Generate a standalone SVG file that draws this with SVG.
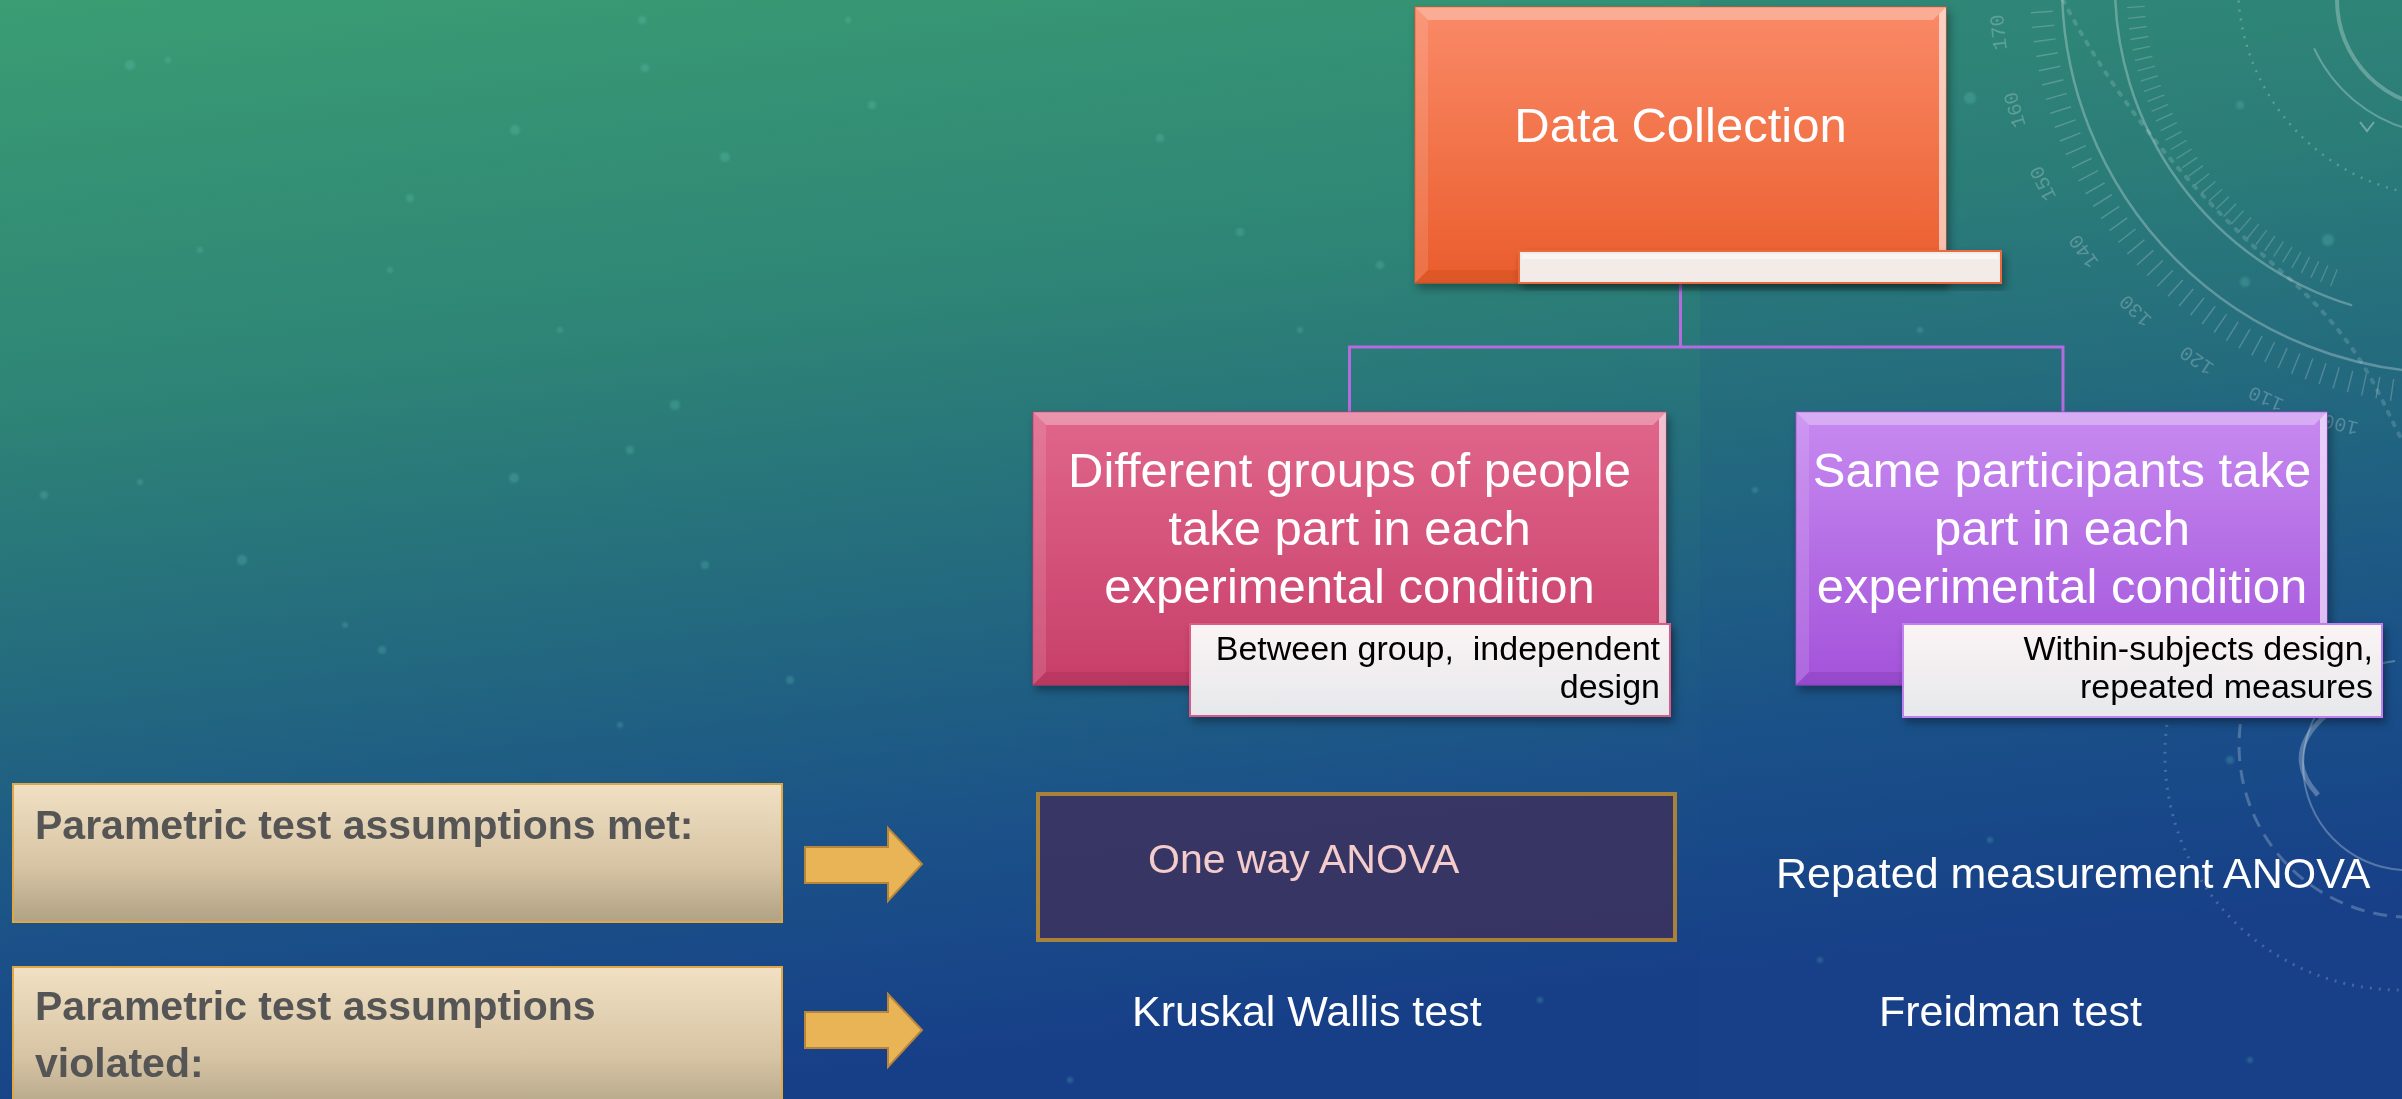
<svg xmlns="http://www.w3.org/2000/svg" width="2402" height="1099" viewBox="0 0 2402 1099">
  <defs>
    <linearGradient id="bg" x1="0" y1="0" x2="0.25" y2="1">
      <stop offset="0" stop-color="#3a9d73"/>
      <stop offset="0.35" stop-color="#2e8476"/>
      <stop offset="0.6" stop-color="#23697f"/>
      <stop offset="0.8" stop-color="#1b5288"/>
      <stop offset="1" stop-color="#173f88"/>
    </linearGradient>
    <linearGradient id="gOrange" x1="0" y1="0" x2="0" y2="1">
      <stop offset="0" stop-color="#fa8a68"/>
      <stop offset="1" stop-color="#ea5d2c"/>
    </linearGradient>
    <linearGradient id="gPink" x1="0" y1="0" x2="0" y2="1">
      <stop offset="0" stop-color="#e1668b"/>
      <stop offset="1" stop-color="#c73f69"/>
    </linearGradient>
    <linearGradient id="gPurple" x1="0" y1="0" x2="0" y2="1">
      <stop offset="0" stop-color="#c78af0"/>
      <stop offset="1" stop-color="#a353da"/>
    </linearGradient>
    <linearGradient id="gTan" x1="0" y1="0" x2="0" y2="1">
      <stop offset="0" stop-color="#f2e0c4"/>
      <stop offset="0.6" stop-color="#d6c4a4"/>
      <stop offset="1" stop-color="#b1a285"/>
    </linearGradient>
    <linearGradient id="gLabel" x1="0" y1="0" x2="0" y2="1">
      <stop offset="0" stop-color="#fbf4f5"/>
      <stop offset="1" stop-color="#e6e8eb"/>
    </linearGradient>
    <filter id="shadow" x="-10%" y="-10%" width="125%" height="135%">
      <feDropShadow dx="3" dy="5" stdDeviation="4" flood-color="#000" flood-opacity="0.35"/>
    </filter>
    <filter id="soft" x="-50%" y="-50%" width="200%" height="200%">
      <feGaussianBlur stdDeviation="1.2"/>
    </filter>
    <style>
      .deco { fill: none; stroke: #ffffff; }
      .num { font-family: "Liberation Mono", monospace; font-size: 20px; fill: #ffffff; fill-opacity: 0.28; text-anchor: middle; dominant-baseline: central; }
      .dot { fill: #6fd3c8; fill-opacity: 0.22; }
      .hi { fill: #ffffff; }
      .box-text { font-family: "Liberation Sans", Arial, sans-serif; fill: #ffffff; text-anchor: middle; font-size: 49px; }
      .label-text { font-family: "Liberation Sans", Arial, sans-serif; fill: #000000; text-anchor: end; font-size: 34px; white-space: pre; }
      .side-text { font-family: "Liberation Sans", Arial, sans-serif; fill: #555555; font-weight: bold; font-size: 41px; }
      .result { font-family: "Liberation Sans", Arial, sans-serif; fill: #ffffff; font-size: 43px; }
      .conn { fill: none; stroke: #b56be0; stroke-width: 3; }
      .arrow { fill: #e8b455; stroke: #b8863a; stroke-width: 2; }
    </style>
  </defs>

  <!-- backdrop -->
  <rect x="0" y="0" width="2402" height="1099" fill="url(#bg)"/>
  <rect x="1700" y="0" width="702" height="1099" fill="#1a4a8a" opacity="0.12"/>

  <!-- floating specks -->
  <g id="specks" filter="url(#soft)">
    <circle class="dot" cx="130" cy="65" r="5"/>
    <circle class="dot" cx="168" cy="60" r="3"/>
    <circle class="dot" cx="410" cy="198" r="4"/>
    <circle class="dot" cx="515" cy="130" r="5"/>
    <circle class="dot" cx="642" cy="20" r="4"/>
    <circle class="dot" cx="645" cy="68" r="4"/>
    <circle class="dot" cx="725" cy="157" r="5"/>
    <circle class="dot" cx="200" cy="250" r="3"/>
    <circle class="dot" cx="390" cy="270" r="3"/>
    <circle class="dot" cx="560" cy="330" r="3"/>
    <circle class="dot" cx="44" cy="495" r="4"/>
    <circle class="dot" cx="140" cy="482" r="3"/>
    <circle class="dot" cx="514" cy="478" r="5"/>
    <circle class="dot" cx="675" cy="405" r="5"/>
    <circle class="dot" cx="630" cy="450" r="4"/>
    <circle class="dot" cx="345" cy="625" r="3"/>
    <circle class="dot" cx="242" cy="560" r="5"/>
    <circle class="dot" cx="382" cy="650" r="4"/>
    <circle class="dot" cx="705" cy="565" r="4"/>
    <circle class="dot" cx="790" cy="680" r="4"/>
    <circle class="dot" cx="620" cy="725" r="3"/>
    <circle class="dot" cx="848" cy="20" r="3"/>
    <circle class="dot" cx="872" cy="105" r="4"/>
    <circle class="dot" cx="1160" cy="138" r="4"/>
    <circle class="dot" cx="1240" cy="232" r="4"/>
    <circle class="dot" cx="1380" cy="265" r="4"/>
    <circle class="dot" cx="1300" cy="330" r="3"/>
    <circle class="dot" cx="1970" cy="98" r="6"/>
    <circle class="dot" cx="2240" cy="105" r="4"/>
    <circle class="dot" cx="2328" cy="240" r="6"/>
    <circle class="dot" cx="2245" cy="282" r="5"/>
    <circle class="dot" cx="1920" cy="330" r="3"/>
    <circle class="dot" cx="1630" cy="500" r="3"/>
    <circle class="dot" cx="1755" cy="490" r="3"/>
    <circle class="dot" cx="2230" cy="760" r="4"/>
    <circle class="dot" cx="1990" cy="840" r="3"/>
    <circle class="dot" cx="1540" cy="1000" r="3"/>
    <circle class="dot" cx="1820" cy="960" r="3"/>
    <circle class="dot" cx="2250" cy="1060" r="3"/>
    <circle class="dot" cx="900" cy="860" r="4"/>
    <circle class="dot" cx="1070" cy="1080" r="3"/>
  </g>

  <!-- dial ornament, upper right -->
  <g id="dial" opacity="0.85">
    <circle class="deco" cx="2450" cy="-15" r="409" stroke-width="22" stroke-dasharray="1.5 12.78" stroke-opacity="0.24"/>
    <circle class="deco" cx="2450" cy="-15" r="388" stroke-width="2.5" stroke-opacity="0.32"/>
    <path class="deco" d="M2115,-20.8 A335,335 0 0 0 2352.1,305.4" stroke-width="2.5" stroke-opacity="0.32"/>
    <path class="deco" d="M2135.2,-4 A315,315 0 0 0 2342.3,281" stroke-width="18" stroke-dasharray="1.4 9" stroke-opacity="0.22"/>
    <circle class="deco" cx="2450" cy="-15" r="212" stroke-width="2.5" stroke-dasharray="2 7" stroke-opacity="0.28"/>
    <circle class="deco" cx="2445" cy="0" r="108" stroke-width="4" stroke-opacity="0.32"/>
    <path class="deco" d="M2314.1,48.4 A150,150 0 0 0 2411.2,129.9" stroke-width="2" stroke-opacity="0.32"/>
    <polyline class="deco" points="2360,122 2367,131 2374,122" stroke-width="2" stroke-opacity="0.4"/>
    <path class="deco" d="M2063,0 C2120,110 2200,200 2283,273 S2380,400 2402,440" stroke-width="4" stroke-dasharray="3 9" stroke-linecap="round" stroke-opacity="0.18"/>
    <text class="num" x="2340.6" y="423.6" transform="rotate(194 2340.6 423.6)">100</text>
    <text class="num" x="2266.2" y="397.9" transform="rotate(204 2266.2 397.9)">110</text>
    <text class="num" x="2197.2" y="359.7" transform="rotate(214 2197.2 359.7)">120</text>
    <text class="num" x="2136.0" y="310.1" transform="rotate(224 2136.0 310.1)">130</text>
    <text class="num" x="2084.3" y="250.7" transform="rotate(234 2084.3 250.7)">140</text>
    <text class="num" x="2043.7" y="183.1" transform="rotate(244 2043.7 183.1)">150</text>
    <text class="num" x="2015.5" y="109.6" transform="rotate(254 2015.5 109.6)">160</text>
    <text class="num" x="1999.5" y="32.2" transform="rotate(264 1999.5 32.2)">170</text>
  </g>

  <!-- ring ornament, lower right -->
  <g id="rings" opacity="0.9">
    <path class="deco" d="M2342,703 Q2275,748 2318,795" stroke-width="5" stroke-opacity="0.3"/>
    <path class="deco" d="M2395,661 A105,105 0 0 0 2402,870" stroke-width="2" stroke-opacity="0.3"/>
    <path class="deco" d="M2275,640 A172,172 0 0 0 2402,917" stroke-width="3" stroke-dasharray="14 9" stroke-opacity="0.25"/>
    <path class="deco" d="M2215,610 A235,235 0 0 0 2402,990" stroke-width="3" stroke-dasharray="2 7" stroke-opacity="0.22"/>
  </g>

  <!-- tree connectors -->
  <g id="connectors">
    <path class="conn" d="M1680.5,283 V347"/>
    <path class="conn" d="M1349.5,412 V347 H2063 V412"/>
  </g>

  <!-- root node -->
  <g id="node-data-collection">
    <g filter="url(#shadow)">
      <rect x="1415" y="7" width="531" height="276" fill="url(#gOrange)" stroke="#d9562b" stroke-width="1"/>
    </g>
    <polygon class="hi" points="1415,7 1946,7 1933,20 1428,20" opacity="0.3"/>
    <polygon class="hi" points="1415,7 1428,20 1428,270 1415,283" opacity="0.12"/>
    <polygon class="hi" points="1946,7 1946,283 1939,276 1939,14" opacity="0.6"/>
    <polygon points="1415,283 1428,270 1933,270 1946,283" fill="#b83f15" opacity="0.25"/>
    <text class="box-text" x="1680.5" y="142" font-size="48">Data Collection</text>
    <g filter="url(#shadow)">
      <rect x="1519" y="251" width="482" height="32" fill="#f3ebe8" stroke="#ea6a3e" stroke-width="2"/>
    </g>
    <rect x="1522" y="254" width="476" height="5" fill="#ffffff" opacity="0.5"/>
  </g>

  <!-- between-groups node -->
  <g id="node-between">
    <g filter="url(#shadow)">
      <rect x="1033" y="412" width="633" height="273" fill="url(#gPink)" stroke="#b83a62" stroke-width="1"/>
    </g>
    <polygon class="hi" points="1033,412 1666,412 1653,425 1046,425" opacity="0.3"/>
    <polygon class="hi" points="1033,412 1046,425 1046,672 1033,685" opacity="0.12"/>
    <polygon class="hi" points="1666,412 1666,685 1659,678 1659,419" opacity="0.6"/>
    <polygon points="1033,685 1046,672 1653,672 1666,685" fill="#8e2048" opacity="0.25"/>
    <text class="box-text" x="1349.5" y="487">Different groups of people</text>
    <text class="box-text" x="1349.5" y="545">take part in each</text>
    <text class="box-text" x="1349.5" y="603">experimental condition</text>
    <g filter="url(#shadow)">
      <rect x="1190" y="624" width="480" height="92" fill="url(#gLabel)" stroke="#de5a86" stroke-width="2"/>
    </g>
    <text class="label-text" x="1660" y="660" xml:space="preserve">Between group,  independent</text>
    <text class="label-text" x="1660" y="698">design</text>
  </g>

  <!-- within-subjects node -->
  <g id="node-within">
    <g filter="url(#shadow)">
      <rect x="1796" y="412" width="531" height="273" fill="url(#gPurple)" stroke="#9548c8" stroke-width="1"/>
    </g>
    <polygon class="hi" points="1796,412 2327,412 2314,425 1809,425" opacity="0.3"/>
    <polygon class="hi" points="1796,412 1809,425 1809,672 1796,685" opacity="0.12"/>
    <polygon class="hi" points="2327,412 2327,685 2320,678 2320,419" opacity="0.6"/>
    <polygon points="1796,685 1809,672 2314,672 2327,685" fill="#6a2a9a" opacity="0.25"/>
    <text class="box-text" x="2062" y="487">Same participants take</text>
    <text class="box-text" x="2062" y="545">part in each</text>
    <text class="box-text" x="2062" y="603">experimental condition</text>
    <g filter="url(#shadow)">
      <rect x="1903" y="624" width="479" height="93" fill="url(#gLabel)" stroke="#c27ff0" stroke-width="2"/>
    </g>
    <text class="label-text" x="2373" y="660">Within-subjects design,</text>
    <text class="label-text" x="2373" y="698">repeated measures</text>
  </g>

  <!-- condition labels on the left -->
  <g id="node-met">
    <rect x="13" y="784" width="769" height="138" fill="url(#gTan)" stroke="#e0a845" stroke-width="2"/>
    <text class="side-text" x="35" y="839">Parametric test assumptions met:</text>
  </g>
  <g id="node-violated">
    <rect x="13" y="967" width="769" height="150" fill="url(#gTan)" stroke="#e0a845" stroke-width="2"/>
    <text class="side-text" x="35" y="1020">Parametric test assumptions</text>
    <text class="side-text" x="35" y="1077">violated:</text>
  </g>

  <!-- block arrows -->
  <g id="arrow-met">
    <polygon class="arrow" points="805,847 888,847 888,828 922,864 888,901 888,883 805,883"/>
  </g>
  <g id="arrow-violated">
    <polygon class="arrow" points="805,1012 888,1012 888,994 922,1030 888,1067 888,1048 805,1048"/>
  </g>

  <!-- resulting tests -->
  <g id="node-one-way-anova">
    <rect x="1038" y="794" width="637" height="146" fill="#3b3360" fill-opacity="0.9" stroke="#a8823a" stroke-width="4"/>
    <text x="1148" y="873" font-family="Liberation Sans, Arial, sans-serif" font-size="41" fill="#f5cccc">One way ANOVA</text>
  </g>
  <g id="node-rm-anova">
    <text class="result" x="1776" y="888" font-size="42.5">Repated measurement ANOVA</text>
  </g>
  <g id="node-kruskal">
    <text class="result" x="1132" y="1026" font-size="42.5">Kruskal Wallis test</text>
  </g>
  <g id="node-friedman">
    <text class="result" x="1879" y="1026" font-size="43.5">Freidman test</text>
  </g>
</svg>
